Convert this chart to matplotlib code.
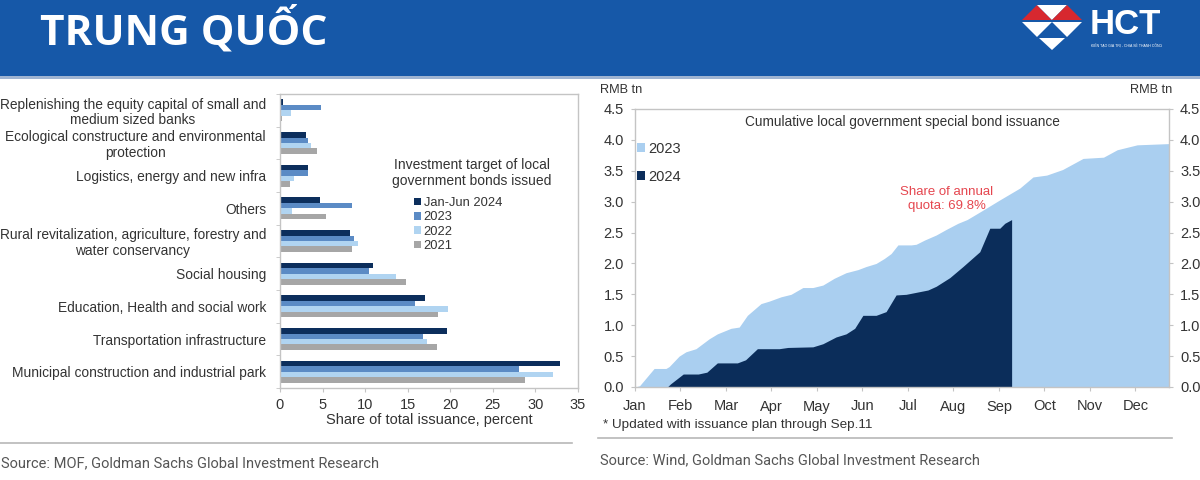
import matplotlib
matplotlib.use("Agg")
import matplotlib.pyplot as plt
import numpy as np
from matplotlib.patches import Rectangle, Polygon

# ---------------- data ----------------
categories = [
    "Replenishing the equity capital of small and\nmedium sized banks",
    "Ecological constructure and environmental\nprotection",
    "Logistics, energy and new infra",
    "Others",
    "Rural revitalization, agriculture, forestry and\nwater conservancy",
    "Social housing",
    "Education, Health and social work",
    "Transportation infrastructure",
    "Municipal construction and industrial park",
]
series_names = ["Jan-Jun 2024", "2023", "2022", "2021"]
v_2024h1 = [0.3, 3.1, 3.3, 4.7, 8.2, 10.9, 17.0, 19.6, 32.9]
v_2023 = [4.8, 3.3, 3.25, 8.5, 8.7, 10.5, 15.9, 16.8, 28.1]
v_2022 = [1.25, 3.6, 1.6, 1.4, 9.2, 13.6, 19.7, 17.3, 32.1]
v_2021 = [0.2, 4.4, 1.2, 5.4, 8.5, 14.8, 18.6, 18.4, 28.8]
bar_xticks = [0, 5, 10, 15, 20, 25, 30, 35]

month_labels = ["Jan", "Feb", "Mar", "Apr", "May", "Jun", "Jul", "Aug", "Sep", "Oct", "Nov", "Dec"]
# x in months since Jan 1
x_2023 = [0, 0.1, 0.42, 0.68, 0.75, 0.97, 1.12, 1.34, 1.63, 1.81, 2.11, 2.29, 2.47, 2.77, 2.95,
          3.21, 3.43, 3.69, 3.91, 4.13, 4.38, 4.64, 4.9, 5.08, 5.3, 5.48, 5.63, 5.78, 6.07, 6.18,
          6.37, 6.62, 6.84, 7.1, 7.3, 7.62, 8.0, 8.46, 8.75, 9.05, 9.4, 9.85, 10.3, 10.6, 11.04, 11.74]
y_2023 = [0, 0.02, 0.30, 0.30, 0.33, 0.50, 0.57, 0.62, 0.78, 0.86, 0.95, 0.97, 1.16, 1.35, 1.39,
          1.46, 1.50, 1.61, 1.61, 1.65, 1.76, 1.85, 1.90, 1.95, 2.00, 2.08, 2.16, 2.30, 2.30, 2.31,
          2.38, 2.46, 2.55, 2.65, 2.71, 2.85, 3.02, 3.22, 3.40, 3.43, 3.52, 3.70, 3.72, 3.84, 3.92, 3.94]
x_2024 = [0.71, 0.78, 1.06, 1.39, 1.58, 1.81, 2.25, 2.43, 2.69, 3.17, 3.36, 3.91, 4.13, 4.42, 4.64,
          4.83, 5.01, 5.30, 5.52, 5.74, 5.96, 6.44, 6.62, 6.92, 7.21, 7.58, 7.80, 8.02, 8.13, 8.28]
y_2024 = [0, 0.05, 0.21, 0.21, 0.24, 0.39, 0.39, 0.44, 0.62, 0.62, 0.64, 0.65, 0.70, 0.81, 0.86,
          0.95, 1.16, 1.16, 1.22, 1.49, 1.50, 1.57, 1.63, 1.77, 1.95, 2.19, 2.57, 2.57, 2.65, 2.71]
area_yticks = [0.0, 0.5, 1.0, 1.5, 2.0, 2.5, 3.0, 3.5, 4.0, 4.5]

# ---------------- style ----------------
plt.rcParams['font.family'] = ['Liberation Sans', 'DejaVu Sans']
W, H = 1200, 480
fig = plt.figure(figsize=(12, 4.8), dpi=100)
fig.patch.set_facecolor("white")

def fx(px):
    return px / W

def fy(py):
    return 1 - py / H

TXT = "#333333"
GRID = "#c4c4c4"
SRC = ["Roboto", "DejaVu Sans"]
bar_colors = ["#0c2e5c", "#5b8bc5", "#b0d4f1", "#a6a6a6"]

# ---------------- banner ----------------
fig.patches.append(Rectangle((0, fy(76)), 1, 76 / H, transform=fig.transFigure,
                             facecolor="#1658a8", edgecolor="none", zorder=0))
fig.patches.append(Rectangle((0, fy(79)), 1, 3 / H, transform=fig.transFigure,
                             facecolor="#9fb4d2", edgecolor="none", zorder=0))
fig.text(fx(40), fy(31), "TRUNG QUỐC", color="white", fontsize=30.5, fontweight="bold",
         family=["Open Sans", "DejaVu Sans"], ha="left", va="center")

def tri(pts, color):
    fig.patches.append(Polygon([(fx(a), fy(b)) for a, b in pts], closed=True,
                               transform=fig.transFigure, facecolor=color,
                               edgecolor="none", zorder=2))

red, wht = "#d7282f", "#ffffff"
tri([(1022, 20), (1037, 5), (1052, 20)], red)
tri([(1037, 5), (1067, 5), (1052, 20)], wht)
tri([(1052, 20), (1067, 5), (1082, 20)], red)
tri([(1022, 22), (1052, 22), (1037, 37)], wht)
tri([(1052, 22), (1082, 22), (1067, 37)], wht)
tri([(1039, 38), (1065, 38), (1052, 50)], wht)
fig.text(fx(1090), fy(24), "HCT", color="white", fontsize=25, fontweight="bold",
         ha="left", va="center")
fig.text(fx(1091), fy(46), "KIẾN TẠO GIÁ TRỊ - CHIA SẺ THÀNH CÔNG", color="white",
         fontsize=2.5, ha="left", va="center")

# ---------------- left: bar chart ----------------
axL = fig.add_axes([fx(280), fy(388), (578 - 280) / W, (388 - 94) / H])
n = len(categories)
pos = np.arange(n)[::-1].astype(float)
h = 0.168
all_vals = [v_2024h1, v_2023, v_2022, v_2021]
offsets = [1.5 * h, 0.5 * h, -0.5 * h, -1.5 * h]
for vals, off, col, name in zip(all_vals, offsets, bar_colors, series_names):
    axL.barh(pos + off, vals, height=h, color=col, label=name, zorder=2)
axL.set_xlim(0, 35)
axL.set_ylim(-0.5, n - 0.5)
axL.set_xticks(bar_xticks)
axL.set_xticklabels([str(t) for t in bar_xticks], fontsize=10.5, color=TXT)
axL.set_yticks(pos)
axL.set_yticklabels(categories, fontsize=9.9, color=TXT, multialignment="center",
                    linespacing=1.1)
axL.set_yticks(np.arange(-0.5, n, 1.0), minor=True)
axL.tick_params(axis="y", which="major", length=0, pad=10)
axL.tick_params(axis="y", which="minor", length=3, color=GRID, direction="out")
axL.tick_params(axis="x", length=3, color=GRID, pad=4)
for s in axL.spines.values():
    s.set_color(GRID)
    s.set_linewidth(1.0)
axL.set_xlabel("Share of total issuance, percent", fontsize=10.5, color=TXT, labelpad=1)

fig.text(fx(472), fy(173), "Investment target of local\ngovernment bonds issued",
         fontsize=10, color=TXT, ha="center", va="center", linespacing=1.2)
axL.legend(loc="upper left", bbox_to_anchor=(fx(414), fy(197)),
           bbox_transform=fig.transFigure, frameon=False, fontsize=9.3,
           handlelength=0.55, handleheight=0.55, handletextpad=0.2,
           labelspacing=0.18, borderaxespad=0, borderpad=0, labelcolor=TXT)

fig.add_artist(plt.Line2D([0, fx(572)], [fy(443), fy(443)], transform=fig.transFigure,
                          color="#b8b8b8", linewidth=1.2))
fig.text(fx(1), fy(463), "Source: MOF, Goldman Sachs Global Investment Research",
         fontsize=10.5, color="#555555", ha="left", va="center", family=SRC)

# ---------------- right: area chart ----------------
axR = fig.add_axes([fx(635), fy(387), (1169 - 635) / W, (387 - 109) / H])
axR.fill_between(x_2023, 0, y_2023, color="#aacff0", linewidth=0, label="2023", zorder=1)
axR.fill_between(x_2024, 0, y_2024, color="#0b2d5a", linewidth=0, label="2024", zorder=2)
axR.set_xlim(0, 11.74)
axR.set_ylim(0, 4.5)
axR.set_xticks(np.arange(12))
axR.set_xticklabels(month_labels, fontsize=10.5, color=TXT)
axR.set_yticks(area_yticks)
axR.set_yticklabels([f"{t:.1f}" for t in area_yticks], fontsize=10.5, color=TXT)
axR.tick_params(axis="y", left=True, right=True, labelleft=True, labelright=True,
                length=3, color=GRID, pad=5)
axR.tick_params(axis="x", length=3, color=GRID, pad=6)
for s in axR.spines.values():
    s.set_color(GRID)
    s.set_linewidth(1.0)
axR.text(0.5, 0.955, "Cumulative local government special bond issuance",
         transform=axR.transAxes, ha="center", va="center", fontsize=9.8, color=TXT)
axR.legend(loc="upper left", bbox_to_anchor=(fx(637), fy(142)),
           bbox_transform=fig.transFigure, frameon=False, fontsize=10.5,
           handlelength=0.55, handleheight=0.55, handletextpad=0.2,
           labelspacing=0.95, borderaxespad=0, borderpad=0, labelcolor=TXT)
axR.text(6.85, 3.04, "Share of annual\nquota: 69.8%", ha="center", va="center",
         fontsize=9.5, color="#e5464f", linespacing=1.2, zorder=3)

fig.text(fx(600), fy(90), "RMB tn", fontsize=9.2, color=TXT, ha="left", va="center")
fig.text(fx(1130), fy(90), "RMB tn", fontsize=9.2, color=TXT, ha="left", va="center")
fig.text(fx(603), fy(425), "* Updated with issuance plan through Sep.11", fontsize=9.7,
         color=TXT, ha="left", va="center")
fig.add_artist(plt.Line2D([fx(598), fx(1172)], [fy(438), fy(438)], transform=fig.transFigure,
                          color="#b8b8b8", linewidth=1.2))
fig.text(fx(600), fy(460), "Source: Wind, Goldman Sachs Global Investment Research",
         fontsize=10.5, color="#555555", ha="left", va="center", family=SRC)

fig.savefig("out.png", dpi=100, facecolor="white")
